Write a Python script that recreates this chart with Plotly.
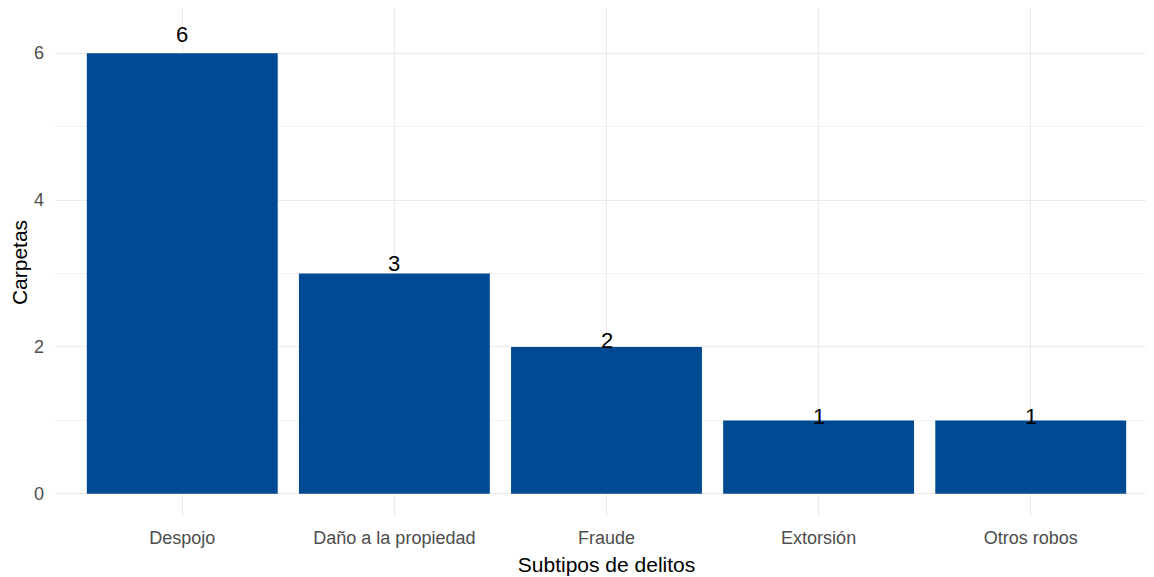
import plotly.graph_objects as go

categories = ["Despojo", "Daño a la propiedad", "Fraude", "Extorsión", "Otros robos"]
values = [6, 3, 2, 1, 1]
y_ticks = [0, 2, 4, 6]

bar_color = "#004A93"
grid = "#EBEBEB"

fig = go.Figure()
fig.add_trace(go.Bar(x=categories, y=values, marker=dict(color=bar_color, line=dict(width=0)),
                     width=0.9, hoverinfo="skip"))

for c, v in zip(categories, values):
    fig.add_annotation(x=c, y=v * 1.04 + 0.01, text=str(v), showarrow=False,
                       xanchor="center", yanchor="middle",
                       font=dict(family="Liberation Sans, Arial", size=22, color="black"))

fig.update_layout(
    width=1154, height=577,
    margin=dict(l=47, r=4, t=0, b=68, autoexpand=False),
    plot_bgcolor="white", paper_bgcolor="white",
    showlegend=False,
    bargap=0.1,
    font=dict(family="Liberation Sans, Arial"),
    xaxis=dict(
        type="category", range=[-0.6, 4.6],
        showgrid=True, gridcolor=grid, gridwidth=1.2,
        zeroline=False, showline=False, ticks="", automargin=False,
        tickfont=dict(size=18, color="#4D4D4D"),
        ticklabelstandoff=8,
        title=dict(text="Subtipos de delitos", font=dict(size=21, color="black"), standoff=10),
    ),
    yaxis=dict(
        range=[-0.315, 6.615],
        tickvals=y_ticks, ticktext=[str(t) for t in y_ticks],
        showgrid=True, gridcolor=grid, gridwidth=1.2,
        minor=dict(tickvals=[1, 3, 5], showgrid=True, gridcolor="#F3F3F3", gridwidth=0.8),
        zeroline=False, showline=False, ticks="", automargin=False,
        tickfont=dict(size=18, color="#4D4D4D"),
        ticklabelstandoff=10,
        title=dict(text="Carpetas", font=dict(size=21, color="black"), standoff=8),
    ),
)

fig.write_html("out.html")
